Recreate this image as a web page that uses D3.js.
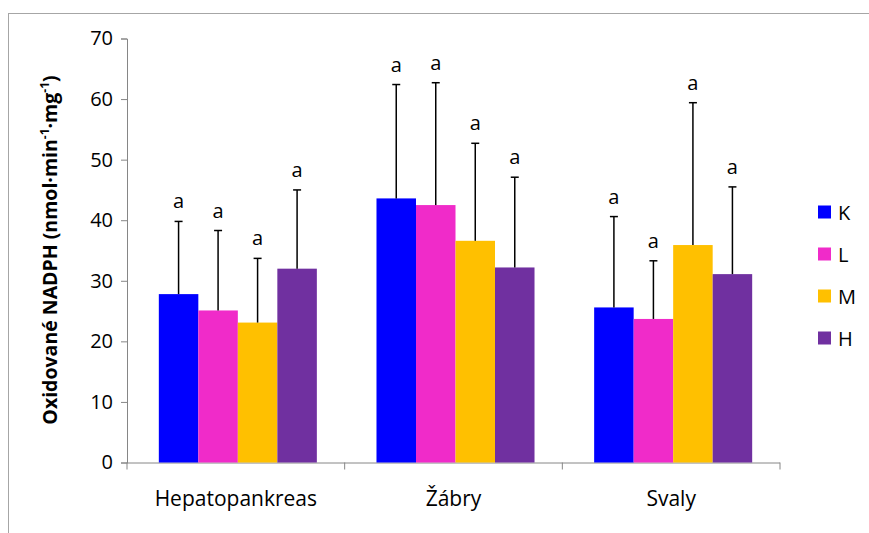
<!DOCTYPE html>
<html>
<head>
<meta charset="utf-8">
<script src="https://cdn.jsdelivr.net/npm/d3@7"></script>
<style>
  body { margin: 0; background: #fff; }
  text { font-family: "Open Sans", sans-serif; fill: #000; }
</style>
</head>
<body>
<svg id="chart" width="869" height="533"></svg>
<script>
// Data
var categories = ["Hepatopankreas", "Žábry", "Svaly"];
var series = ["K", "L", "M", "H"];
var colors = ["#0000ff", "#f02bc9", "#ffc000", "#7030a0"];
// means per series, one entry per category
var means = {
	K: [27.8, 43.6, 25.6],
	L: [25.1, 42.5, 23.7],
	M: [23.1, 36.6, 35.9],
	H: [32.0, 32.2, 31.1]
};
// upper end of error bar
var errTop = {
	K: [39.8, 62.4, 40.6],
	L: [38.3, 62.7, 33.3],
	M: [33.7, 52.7, 59.4],
	H: [45.0, 47.1, 45.5]
};
var letters = {
	K: ["a", "a", "a"],
	L: ["a", "a", "a"],
	M: ["a", "a", "a"],
	H: ["a", "a", "a"]
};
var yTicks = [0, 10, 20, 30, 40, 50, 60, 70];

// Plot area
var plot = {left: 127, right: 780, top: 38.5, bottom: 462.5};

var svg = d3.select("#chart");

// outer frame (only top and left edges fall inside the picture)
svg.append("rect")
	.attr("x", 8.5).attr("y", 13.5)
	.attr("width", 900).attr("height", 600)
	.attr("fill", "none")
	.attr("stroke", "#a6a6a6")
	.attr("stroke-width", 1);

var y = d3.scaleLinear().domain([0, 70]).range([plot.bottom, plot.top]);
var x = d3.scaleBand().domain(categories).range([plot.left, plot.right]);
var inner = d3.scaleBand().domain(series)
	.range([0, x.bandwidth() * 0.726]);
var groupOffset = (x.bandwidth() - inner.range()[1]) / 2 + 2;

// y axis
var yAxis = svg.append("g")
	.attr("transform", "translate(" + plot.left + ",0)")
	.call(d3.axisLeft(y).tickValues(yTicks).tickSize(6).tickPadding(8));
yAxis.select(".domain").attr("stroke", "#868686");
yAxis.selectAll(".tick line").attr("stroke", "#868686");
yAxis.selectAll(".tick text")
	.style("font-size", "20px")
	.attr("fill", "#000");

// x axis
var xAxis = svg.append("g")
	.attr("transform", "translate(0," + plot.bottom + ")")
	.call(d3.axisBottom(x).tickSize(0).tickPadding(29));
xAxis.select(".domain").attr("d", "M" + plot.left + ",0.5H" + plot.right)
	.attr("stroke", "#868686");
xAxis.selectAll(".tick text")
	.style("font-size", "21px")
	.attr("fill", "#000");
// category boundary ticks
var bounds = categories.map(function(c) { return x(c); }).concat([plot.right]);
svg.append("g").selectAll("line")
	.data(bounds)
	.enter().append("line")
	.attr("x1", function(d) { return d; })
	.attr("x2", function(d) { return d; })
	.attr("y1", plot.bottom)
	.attr("y2", plot.bottom + 7)
	.attr("stroke", "#868686");

// flatten for drawing
var rows = [];
series.forEach(function(s, si) {
	categories.forEach(function(c, ci) {
		rows.push({s: s, si: si, c: c, v: means[s][ci], top: errTop[s][ci], lab: letters[s][ci]});
	});
});

function bx(d) { return x(d.c) + groupOffset + inner(d.s); }
function cx(d) { return bx(d) + inner.bandwidth() / 2; }

svg.append("g").selectAll("rect")
	.data(rows)
	.enter().append("rect")
	.attr("x", bx)
	.attr("width", inner.bandwidth())
	.attr("y", function(d) { return y(d.v); })
	.attr("height", function(d) { return y(0) - y(d.v); })
	.attr("fill", function(d) { return colors[d.si]; });

// error bars
var eb = svg.append("g").attr("stroke", "#000").attr("stroke-width", 1.5);
eb.selectAll(".stem")
	.data(rows)
	.enter().append("line")
	.attr("x1", cx).attr("x2", cx)
	.attr("y1", function(d) { return y(d.v); })
	.attr("y2", function(d) { return y(d.top); });
eb.selectAll(".cap")
	.data(rows)
	.enter().append("line")
	.attr("x1", function(d) { return cx(d) - 4; })
	.attr("x2", function(d) { return cx(d) + 4; })
	.attr("y1", function(d) { return y(d.top); })
	.attr("y2", function(d) { return y(d.top); });

// significance letters
svg.append("g").selectAll("text")
	.data(rows)
	.enter().append("text")
	.attr("x", cx)
	.attr("y", function(d) { return y(d.top) - 13; })
	.attr("text-anchor", "middle")
	.style("font-size", "20px")
	.text(function(d) { return d.lab; });

// y axis title
var title = svg.append("text")
	.attr("transform", "translate(57,250) rotate(-90)")
	.attr("text-anchor", "middle")
	.style("font-size", "19.5px")
	.style("font-weight", "bold");
title.append("tspan").text("Oxidované NADPH (nmol·min");
title.append("tspan").attr("baseline-shift", "super").style("font-size", "12px").text("-1");
title.append("tspan").text("·mg");
title.append("tspan").attr("baseline-shift", "super").style("font-size", "12px").text("-1");
title.append("tspan").text(")");

// legend
var legend = svg.append("g").selectAll("g")
	.data(series)
	.enter().append("g")
	.attr("transform", function(d, i) { return "translate(818," + (205.5 + i * 42) + ")"; });
legend.append("rect")
	.attr("width", 13).attr("height", 13)
	.attr("fill", function(d, i) { return colors[i]; });
legend.append("text")
	.attr("x", 20).attr("y", 14)
	.style("font-size", "20px")
	.text(function(d) { return d; });
</script>
</body>
</html>
